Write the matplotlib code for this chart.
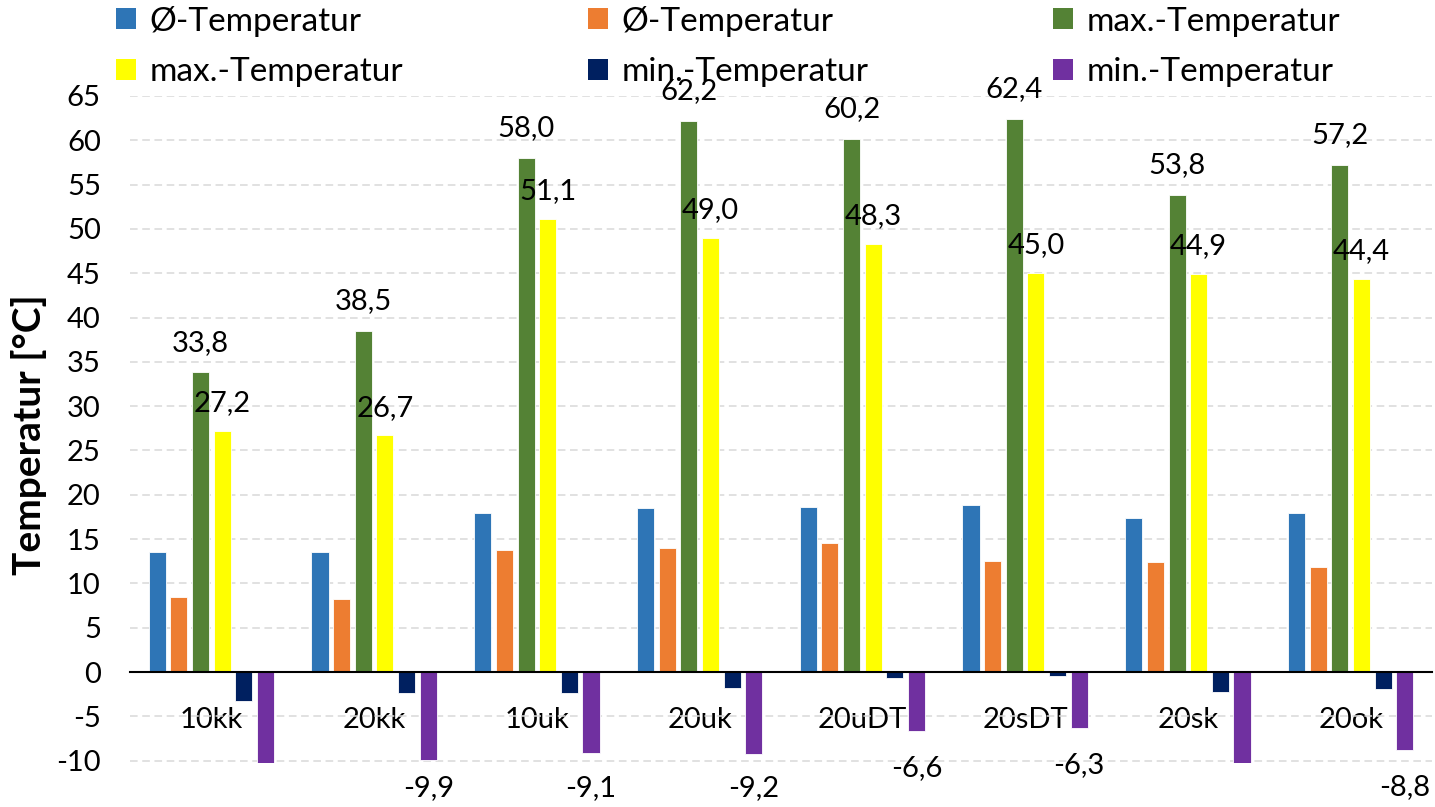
import numpy as np
import matplotlib.pyplot as plt
from matplotlib.patches import Patch

plt.rcParams['font.family'] = ['Lato', 'DejaVu Sans']
plt.rcParams['axes.unicode_minus'] = False

kategorien = ['10kk', '20kk', '10uk', '20uk', '20uDT', '20sDT', '20sk', '20ok']
avg_a = [13.5, 13.6, 18.0, 18.5, 18.6, 18.8, 17.4, 18.0]
avg_b = [8.5, 8.2, 13.8, 14.0, 14.6, 12.5, 12.4, 11.9]
max_a = [33.8, 38.5, 58.0, 62.2, 60.2, 62.4, 53.8, 57.2]
max_b = [27.2, 26.7, 51.1, 49.0, 48.3, 45.0, 44.9, 44.4]
min_a = [-3.3, -2.4, -2.4, -1.8, -0.7, -0.5, -2.2, -1.9]
min_b = [-10.3, -9.9, -9.1, -9.2, -6.6, -6.3, -10.3, -8.8]

namen = ['Ø-Temperatur', 'Ø-Temperatur', 'max.-Temperatur',
         'max.-Temperatur', 'min.-Temperatur', 'min.-Temperatur']
farben = ['#2E75B6', '#ED7D31', '#548235', '#FFFF00', '#002060', '#7030A0']
reihen = [avg_a, avg_b, max_a, max_b, min_a, min_b]

fs = 21

def fmt(v):
    return f'{v:.1f}'.replace('.', ',')

fig = plt.figure(figsize=(14.35, 8.07), dpi=100)
ax = fig.add_axes([130/1435, (807-763.3)/807, 1302/1435, (763.3-96)/807])

x = np.arange(len(kategorien))
pitch = 0.133
breite = 0.105
for i, (werte, farbe) in enumerate(zip(reihen, farben)):
    xpos = x + (i - 2.5) * pitch
    ax.bar(xpos, werte, breite, color=farbe, edgecolor='white', linewidth=0.6, zorder=3)
    if i == 2:
        for xx, v in zip(xpos, werte):
            ax.annotate(fmt(v), (xx, v), xytext=(0, 21.5), textcoords='offset points',
                        ha='center', va='center', fontsize=fs, zorder=5)
    elif i == 3:
        for xx, v in zip(xpos, werte):
            ax.annotate(fmt(v), (xx, v), xytext=(0, 20), textcoords='offset points',
                        ha='center', va='center', fontsize=fs, zorder=5)
    elif i == 5:
        for xx, v in zip(xpos, werte):
            if v < -10:
                continue
            ax.text(xx, max(v - 4.2, -13.1), fmt(v), ha='center', va='center',
                    fontsize=fs, zorder=5)

ax.set_xlim(-0.5, len(kategorien) - 0.5)
ax.set_ylim(-10.3, 65)
ax.set_yticks(np.arange(-10, 66, 5))
ax.set_xticks(x)
ax.set_xticklabels(kategorien)

for s in ['top', 'right', 'left']:
    ax.spines[s].set_visible(False)
ax.spines['bottom'].set_position(('data', 0))
ax.spines['bottom'].set_linewidth(1.5)
ax.spines['bottom'].set_zorder(4)

ax.tick_params(axis='both', length=0, labelsize=fs)
ax.tick_params(axis='x', pad=25)
ax.tick_params(axis='y', pad=21)
ax.yaxis.grid(True, color='#d9d9d9', linestyle=(0, (5, 3)), linewidth=1.1)
ax.set_axisbelow(True)

ax.set_ylabel('Temperatur [°C]', fontsize=28, fontweight='bold')
ax.yaxis.set_label_coords(-0.064, 0.492)

# legend: matplotlib fills columns first
reihenfolge = [0, 3, 1, 4, 2, 5]
handles = [Patch(facecolor=farben[k], edgecolor='none') for k in reihenfolge]
labels = [namen[k] for k in reihenfolge]
fig.legend(handles, labels, ncol=3, loc='upper left',
           bbox_to_anchor=(0.081, 0.993, 0.853, 0.0), mode='expand',
           frameon=False, fontsize=24, handlelength=0.6, handleheight=0.6,
           handletextpad=0.4, labelspacing=0.62, borderpad=0.0, borderaxespad=0)

fig.savefig('out.png', dpi=100)
